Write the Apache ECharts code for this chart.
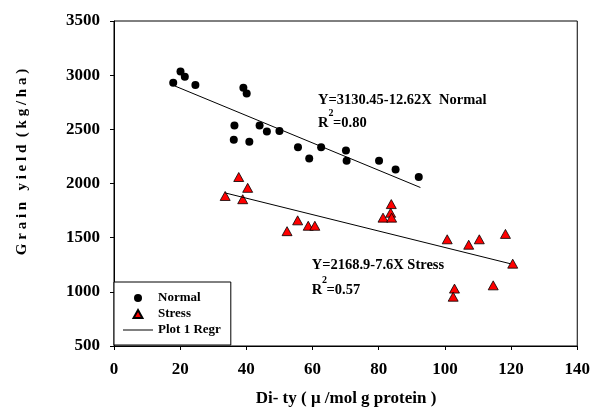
<!DOCTYPE html>
<html>
<head>
<meta charset="utf-8">
<script src="https://cdn.jsdelivr.net/npm/echarts@6/dist/echarts.min.js"></script>
<style>
html, body { margin: 0; padding: 0; background: #fff; }
#main { width: 593px; height: 409px; }
</style>
</head>
<body>
<div id="main"></div>
<script>
// values
var normalX = [17.9, 20.1, 21.4, 24.6, 39.1, 40.1, 36.4, 36.2, 40.9, 44.0, 46.2, 50.0, 55.6, 59.0, 62.6, 70.1, 70.3, 80.1, 85.1, 92.1];
var normalY = [2930, 3035, 2985, 2910, 2885, 2830, 2535, 2405, 2385, 2535, 2480, 2485, 2335, 2230, 2335, 2305, 2210, 2210, 2130, 2060];
var stressX = [37.7, 40.4, 33.6, 38.9, 55.5, 52.3, 58.7, 60.7, 83.8, 83.6, 81.3, 83.9, 100.7, 107.2, 110.4, 118.3, 120.5, 102.9, 102.5, 114.6];
var stressY = [2060, 1960, 1885, 1855, 1660, 1560, 1610, 1610, 1810, 1730, 1685, 1685, 1485, 1435, 1485, 1535, 1260, 1030, 955, 1060];
// regression line ends
var normalFitX = [18.4, 92.6];
var normalFitY = [2900, 1963];
var stressFitX = [33.6, 119.7];
var stressFitY = [1913, 1260];

var xTicks = [0, 20, 40, 60, 80, 100, 120, 140];
var yTicks = [500, 1000, 1500, 2000, 2500, 3000, 3500];

function pairs(xs, ys) {
    return xs.map(function (x, i) { return [x, ys[i]]; });
}

var serif = "'Liberation Serif', 'Times New Roman', serif";
var chart = echarts.init(document.getElementById('main'));

var option = {
    animation: false,
    textStyle: { fontFamily: serif, fontWeight: 'bold', color: '#000' },
    grid: {
        left: 114, top: 21, right: 14, bottom: 63,
        show: true, borderColor: '#000', borderWidth: 1
    },
    xAxis: {
        type: 'value',
        min: xTicks[0], max: xTicks[xTicks.length - 1], interval: 20,
        axisLine: { lineStyle: { color: '#000', width: 1 } },
        axisTick: { length: 4, lineStyle: { color: '#000' } },
        splitLine: { show: false },
        axisLabel: {
            margin: 15, fontSize: 17, fontWeight: 'bold', fontFamily: serif, color: '#000',
            formatter: function (v) { return String(v); }
        }
    },
    yAxis: {
        type: 'value',
        min: yTicks[0], max: yTicks[yTicks.length - 1], interval: 500,
        axisLine: { show: true, lineStyle: { color: '#000', width: 1 } },
        axisTick: { show: true, length: 4, lineStyle: { color: '#000' } },
        splitLine: { show: false },
        axisLabel: {
            margin: 14, fontSize: 17, fontWeight: 'bold', fontFamily: serif, color: '#000',
            formatter: function (v) { return String(v); }
        }
    },
    legend: {
        orient: 'vertical',
        left: 114, top: 282,
        padding: [9, 10, 8, 9],
        itemGap: 2,
        itemWidth: 30, itemHeight: 8,
        symbolKeepAspect: true,
        borderColor: '#000', borderWidth: 1,
        backgroundColor: '#fff',
        selectedMode: false,
        textStyle: { fontSize: 13, fontWeight: 'bold', fontFamily: serif, color: '#000', lineHeight: 14 },
        data: [
            { name: 'Normal', icon: 'circle' },
            { name: 'Stress', icon: 'path://M5,0 L10,9 L0,9 Z' },
            { name: 'Plot 1 Regr', icon: 'path://M0,0 L30,0 L30,1 L0,1 Z' }
        ]
    },
    series: [
        {
            name: 'Plot 1 Regr', type: 'line', symbol: 'none',
            lineStyle: { color: '#000', width: 1 }, itemStyle: { color: '#000' },
            data: pairs(normalFitX, normalFitY)
        },
        {
            name: 'Plot 1 Regr', type: 'line', symbol: 'none',
            lineStyle: { color: '#000', width: 1 }, itemStyle: { color: '#000' },
            data: pairs(stressFitX, stressFitY)
        },
        {
            name: 'Normal', type: 'scatter', symbol: 'circle', symbolSize: 8,
            itemStyle: { color: '#000', opacity: 1 },
            data: pairs(normalX, normalY)
        },
        {
            name: 'Stress', type: 'scatter', symbol: 'triangle', symbolSize: [10, 9],
            itemStyle: { color: '#ff0000', borderColor: '#000', borderWidth: 0.8, opacity: 1 },
            data: pairs(stressX, stressY)
        }
    ],
    graphic: [
        {
            type: 'text', x: 22, y: 162, rotation: Math.PI / 2,
            style: { text: 'G r a i n   y i e l d  ( k g / h a )', font: 'bold 15px ' + serif, fill: '#000', align: 'center', verticalAlign: 'middle' }
        },
        {
            type: 'text', x: 346, y: 399,
            style: { text: 'Di- ty ( \u03bc /mol g protein )', font: 'bold 17px ' + serif, fill: '#000', align: 'center', verticalAlign: 'middle' }
        },
        { type: 'text', x: 318, y: 100, style: { text: 'Y=3130.45-12.62X  Normal', font: 'bold 14.5px ' + serif, fill: '#000', verticalAlign: 'middle' } },
        { type: 'text', x: 318, y: 123, style: { text: 'R', font: 'bold 14.5px ' + serif, fill: '#000', verticalAlign: 'middle' } },
        { type: 'text', x: 328.5, y: 113, style: { text: '2', font: 'bold 10px ' + serif, fill: '#000', verticalAlign: 'middle' } },
        { type: 'text', x: 333, y: 123, style: { text: '=0.80', font: 'bold 14.5px ' + serif, fill: '#000', verticalAlign: 'middle' } },
        { type: 'text', x: 311.7, y: 265, style: { text: 'Y=2168.9-7.6X Stress', font: 'bold 14.5px ' + serif, fill: '#000', verticalAlign: 'middle' } },
        { type: 'text', x: 311.7, y: 290, style: { text: 'R', font: 'bold 14.5px ' + serif, fill: '#000', verticalAlign: 'middle' } },
        { type: 'text', x: 322, y: 280, style: { text: '2', font: 'bold 10px ' + serif, fill: '#000', verticalAlign: 'middle' } },
        { type: 'text', x: 326.5, y: 290, style: { text: '=0.57', font: 'bold 14.5px ' + serif, fill: '#000', verticalAlign: 'middle' } }
    ]
};

option && chart.setOption(option);
</script>
</body>
</html>
